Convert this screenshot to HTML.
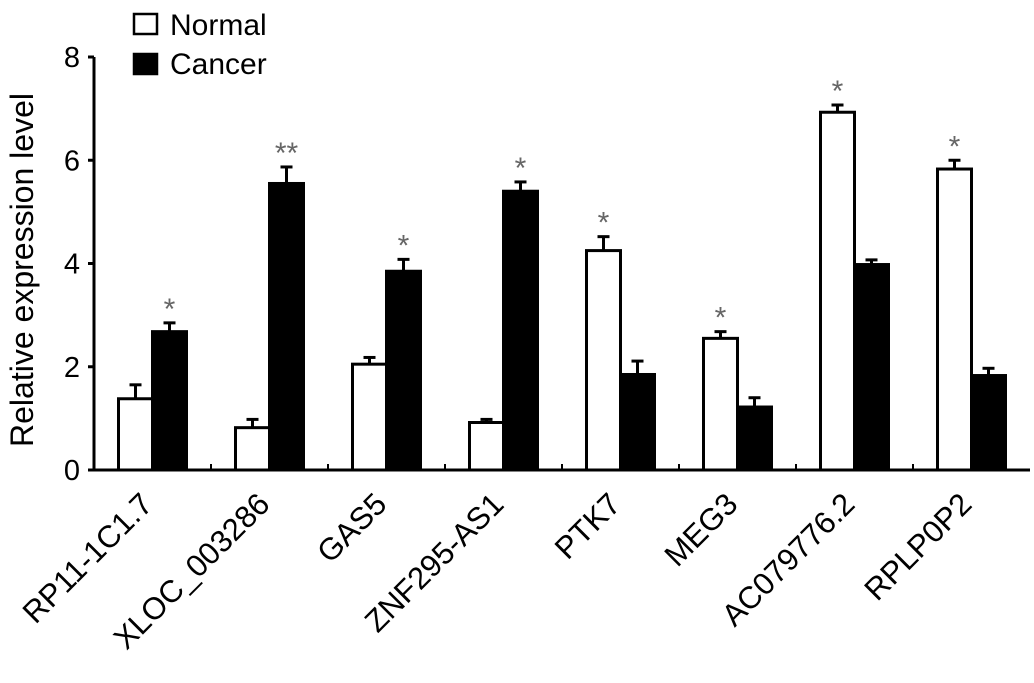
<!DOCTYPE html>
<html><head><meta charset="utf-8"><style>
body{margin:0;background:#fff}
svg text{font-family:"Liberation Sans",Arial,sans-serif}
</style></head><body>
<svg id="chart" width="1034" height="678" viewBox="0 0 1034 678" xmlns="http://www.w3.org/2000/svg">
<g id="legend">
 <rect x="134" y="14" width="23" height="20" fill="#fff" stroke="#000" stroke-width="2.5"/>
 <text x="170" y="35" font-size="30">Normal</text>
 <rect x="134" y="54" width="23" height="20" fill="#000" stroke="#000" stroke-width="2.5"/>
 <text x="170" y="74" font-size="30">Cancer</text>
</g>
<text transform="translate(33,270) rotate(-90)" text-anchor="middle" font-size="32">Relative expression level</text>
<g id="plot"></g>
</svg>
<script>
const categories=["RP11-1C1.7","XLOC_003286","GAS5","ZNF295-AS1","PTK7","MEG3","AC079776.2","RPLP0P2"];
const normalValues=[1.38,0.82,2.05,0.92,4.25,2.55,6.93,5.83];
const normalErrors=[0.27,0.16,0.13,0.06,0.27,0.13,0.14,0.17];
const cancerValues=[2.68,5.55,3.85,5.40,1.85,1.22,3.98,1.83];
const cancerErrors=[0.17,0.32,0.23,0.18,0.26,0.18,0.09,0.14];
const normalSig=["","","","","*","*","*","*"];
const cancerSig=["*","**","*","*","","","",""];
const yTicks=[0,2,4,6,8];
const NS="http://www.w3.org/2000/svg";
const g=document.getElementById('plot');
const x0=94,groupW=117,y0=470,yMax=8,yTop=57,barW=34;
const yS=v=>y0-(v/yMax)*(y0-yTop);
const gc=i=>x0+groupW*(i+0.5);
function mk(t,a){const e=document.createElementNS(NS,t);for(const k in a)e.setAttribute(k,a[k]);g.appendChild(e);return e;}
yTicks.forEach(t=>{
 const l=mk('line',{x1:88,x2:x0,y1:yS(t),y2:yS(t),stroke:'#000','stroke-width':3});
 
 
 const tx=mk('text',{x:80,y:yS(t)+10,'text-anchor':'end','font-size':29});
 tx.textContent=t;
 
 
});
function bar(x,v,err,fill,sig,name){
 const r=mk('rect',{x:x,y:yS(v),width:barW,height:y0-yS(v),fill:fill,stroke:'#000','stroke-width':3});
 
 
 const cx=x+barW/2;
 const e=mk('line',{x1:cx,x2:cx,y1:yS(v),y2:yS(v+err),stroke:'#000','stroke-width':3});
 
 
 const c=mk('line',{x1:cx-6,x2:cx+6,y1:yS(v+err),y2:yS(v+err),stroke:'#000','stroke-width':3});
 
 
 if(sig){const s=mk('text',{x:cx,y:yS(v+err)-4,'text-anchor':'middle','font-size':30,fill:'#666'});s.textContent=sig;
 
 }
}
categories.forEach((c,i)=>{
 const cx=gc(i);
 bar(cx-barW,normalValues[i],normalErrors[i],'#fff',normalSig[i],'bar-normal');
 bar(cx,cancerValues[i],cancerErrors[i],'#000',cancerSig[i],'bar-cancer');
 if(i>0){const t=mk('line',{x1:x0+groupW*i,x2:x0+groupW*i,y1:y0,y2:y0-6,stroke:'#000','stroke-width':2});
 
 }
 const lb=mk('text',{transform:`translate(${cx+2},${y0+36}) rotate(-45)`,'text-anchor':'end','font-size':31});
 lb.textContent=c;
 
 
});
const ya=mk('line',{x1:x0,x2:x0,y1:yTop,y2:y0+1.5,stroke:'#000','stroke-width':3});


const xa=mk('line',{x1:x0,x2:x0+groupW*categories.length,y1:y0,y2:y0,stroke:'#000','stroke-width':3});


</script>
</body></html>
